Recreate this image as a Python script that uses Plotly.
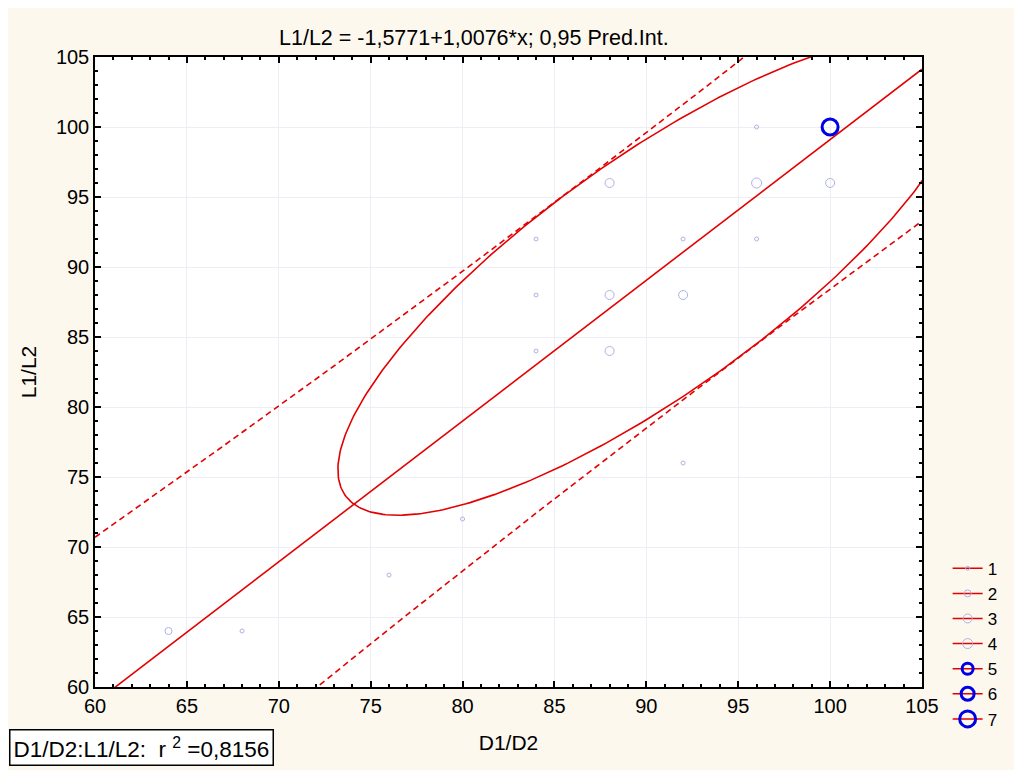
import numpy as np
import plotly.graph_objects as go

# cases: D1/D2 vs L1/L2, repeated cases are shown by marker size (frequency)
d1d2 = [64, 68, 76, 80, 84, 84, 84, 88, 88, 88, 92, 92, 92, 96, 96, 96, 100, 100]
l1l2 = [64, 64, 68, 72, 92, 88, 84, 96, 88, 84, 92, 88, 76, 100, 96, 92, 100, 96]
freq = [2, 1, 1, 1, 1, 1, 1, 3, 3, 3, 1, 3, 1, 1, 4, 1, 7, 3]

freq_levels = [1, 2, 3, 4, 5, 6, 7]
x_ticks = [60, 65, 70, 75, 80, 85, 90, 95, 100, 105]
y_ticks = [60, 65, 70, 75, 80, 85, 90, 95, 100, 105]

title_txt = "L1/L2 = -1,5771+1,0076*x; 0,95 Pred.Int."
r2_txt = "D1/D2:L1/L2:  r <sup>2</sup> =0,8156"

T_95 = 2.120       # t(0.975, 16) - df taken from the distinct cases
# ellipse as drawn (half extents and shape)
ELL_HALF_X = 17.1
ELL_HALF_Y = 17.1
ELL_RHO = 0.81

red = "rgb(228,0,0)"
light = "#AEB2E4"
blue = "#0000E6"
font = "Liberation Sans, Arial, sans-serif"

# weighted stats
x = np.repeat(d1d2, freq).astype(float)
y = np.repeat(l1l2, freq).astype(float)
n = len(x)
k = len(d1d2)
mx, my = x.mean(), y.mean()
sxx = ((x - mx) ** 2).sum()
syy = ((y - my) ** 2).sum()
sxy = ((x - mx) * (y - my)).sum()
b = sxy / sxx
a = my - b * mx
rss = syy - b * sxy
s = np.sqrt(rss * k / n / (k - 2))   # weights rescaled to the number of cases

xs = np.linspace(x_ticks[0], x_ticks[-1], 300)
fit = a + b * xs
hw = T_95 * s * np.sqrt(1 + 1 / n + (xs - mx) ** 2 / sxx)

t = np.linspace(0, 2 * np.pi, 400)
ex = mx + ELL_HALF_X * np.cos(t)
ey = my + ELL_HALF_Y * np.cos(t - np.arccos(ELL_RHO))

fig = go.Figure()

fig.add_trace(go.Scatter(x=xs, y=fit, mode="lines", line=dict(color=red, width=1.6), showlegend=False))
fig.add_trace(go.Scatter(x=xs, y=fit + hw, mode="lines", line=dict(color=red, width=1.6, dash="6px,4px"), showlegend=False))
fig.add_trace(go.Scatter(x=xs, y=fit - hw, mode="lines", line=dict(color=red, width=1.6, dash="6px,4px"), showlegend=False))
fig.add_trace(go.Scatter(x=ex, y=ey, mode="lines", line=dict(color=red, width=1.6), showlegend=False))

sizes = {1: 4, 2: 7, 3: 9, 4: 10, 5: 11, 6: 13, 7: 16}

def marker_for(f):
    if f <= 4:
        return dict(symbol="circle-open", size=sizes[f], color=light, line=dict(width=1, color=light))
    return dict(symbol="circle-open", size=sizes[f], color=blue, line=dict(width=3, color=blue))

for f in freq_levels:
    px_ = [d1d2[i] for i in range(len(freq)) if freq[i] == f]
    py_ = [l1l2[i] for i in range(len(freq)) if freq[i] == f]
    if px_:
        fig.add_trace(go.Scatter(x=px_, y=py_, mode="markers", marker=marker_for(f),
                                 showlegend=False, cliponaxis=False))
    # legend entry
    fig.add_trace(go.Scatter(x=[None], y=[None], mode="lines+markers", name=str(f),
                             marker=marker_for(f), line=dict(color=red, width=1.5)))

axis = dict(
    showline=True, linecolor="black", linewidth=1.5, mirror="allticks",
    ticks="inside", ticklen=6, tickcolor="black", tickwidth=1.5,
    minor=dict(ticks="inside", ticklen=3, dtick=1, tickcolor="black", showgrid=False),
    showgrid=True, gridcolor="#EDEDF3", gridwidth=1, zeroline=False,
    tickfont=dict(size=20, color="black", family=font),
)

fig.update_xaxes(axis, range=[60, 105], tickvals=x_ticks,
                 title=dict(text="D1/D2", font=dict(size=21, color="black", family=font), standoff=20))
fig.update_yaxes(axis, range=[60, 105], tickvals=y_ticks,
                 title=dict(text="L1/L2", font=dict(size=21, color="black", family=font), standoff=14))

fig.add_annotation(xref="paper", yref="paper", x=-0.1045, y=-0.066, xanchor="left", yanchor="top",
                   text=r2_txt, showarrow=False, bgcolor="white", bordercolor="black",
                   borderwidth=1.5, borderpad=3, font=dict(size=22.5, color="black", family=font))

fig.update_layout(
    width=1022, height=770, autosize=False,
    margin=dict(l=87, r=108, t=49, b=91),
    paper_bgcolor="#FCF8EE", plot_bgcolor="white",
    title=dict(text=title_txt, x=0.2225, xref="paper", xanchor="left", y=1 - 29 / 770, yref="container",
               yanchor="middle", font=dict(size=21.5, color="black", family=font)),
    font=dict(family=font, color="black"),
    legend=dict(x=1.031, y=0.2163, xanchor="left", yanchor="top", bgcolor="rgba(0,0,0,0)",
                font=dict(size=17, color="black", family=font), itemwidth=30, tracegroupgap=0),
)

fig.write_html("out.html")
